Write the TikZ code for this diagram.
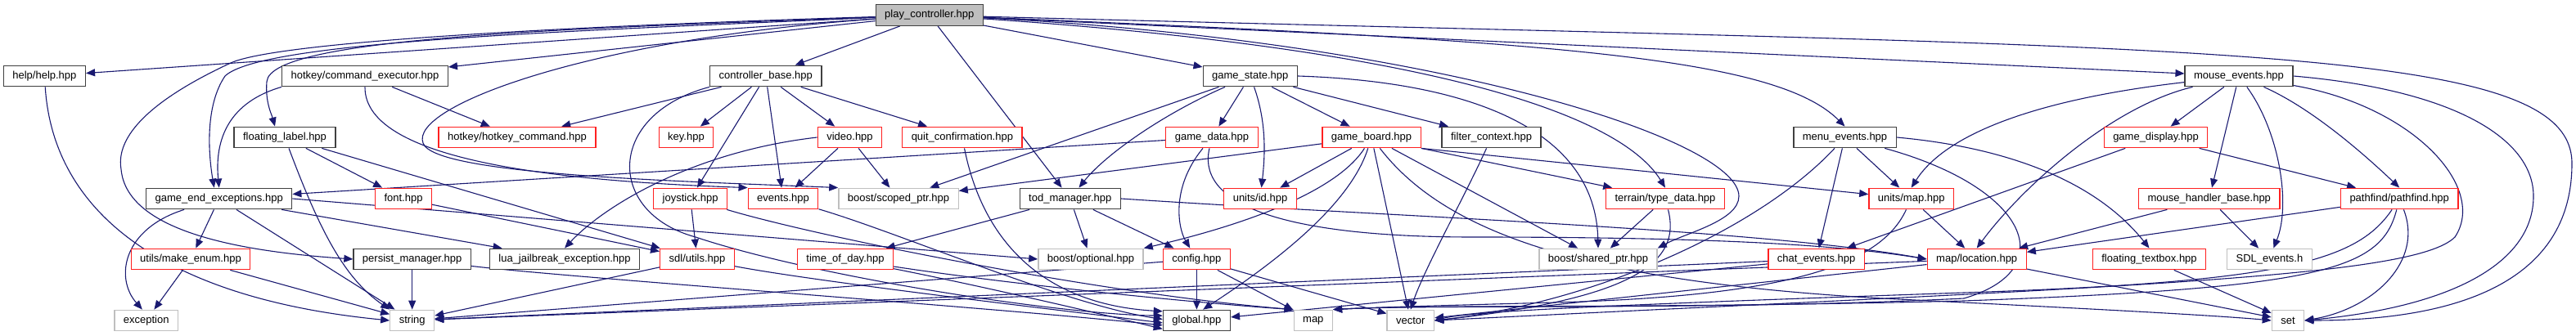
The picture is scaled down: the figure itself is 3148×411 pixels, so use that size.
\documentclass[tikz,border=0pt]{standalone}
\usepackage{fontspec}
\usetikzlibrary{arrows.meta,backgrounds}
\newfontfamily\incfamily{Liberation Sans}
\newcommand{\incfont}{\incfamily\fontsize{13}{15}\selectfont}
\definecolor{edgeblue}{HTML}{191970}
\definecolor{extgray}{HTML}{BFBFBF}
\definecolor{truncred}{HTML}{FF2020}
\tikzset{
  incfile/.style={rectangle, draw, line width=1.3pt, fill=white, minimum height=25.5pt, inner xsep=11pt, inner ysep=0pt, font=\incfont},
  docfile/.style={incfile, draw=black!75},
  rootfile/.style={incfile, draw=black!75, fill=extgray},
  truncfile/.style={incfile, draw=truncred},
  sysfile/.style={incfile, draw=extgray},
  dep/.style={-{Triangle[length=11pt,width=9pt]}, draw=edgeblue, line width=1.1pt}
}

\begin{document}
\begin{tikzpicture}[x=1pt,y=-1pt]
  \useasboundingbox (0,0) rectangle (3148,411);
  % files
  \node[rootfile] (pc) at (1135.8,18.5) {play\_controller.hpp};
  \node[docfile] (help) at (54.4,93) {help/help.hpp};
  \node[docfile] (cmdexec) at (446,93) {hotkey/command\_executor.hpp};
  \node[docfile] (ctrlbase) at (935.8,93) {controller\_base.hpp};
  \node[docfile] (gamestate) at (1527.8,93) {game\_state.hpp};
  \node[docfile] (mouseev) at (2736,93) {mouse\_events.hpp};

  \node[docfile] (floatlabel) at (348,168) {floating\_label.hpp};
  \node[truncfile] (hkcmd) at (632,168) {hotkey/hotkey\_command.hpp};
  \node[truncfile] (key) at (838.5,168) {key.hpp};
  \node[truncfile] (video) at (1038.5,168) {video.hpp};
  \node[truncfile] (quitconf) at (1175.9,168) {quit\_confirmation.hpp};
  \node[truncfile] (gamedata) at (1481,168) {game\_data.hpp};
  \node[truncfile] (gameboard) at (1676,168) {game\_board.hpp};
  \node[docfile] (filterctx) at (1822.6,168) {filter\_context.hpp};
  \node[docfile] (menuev) at (2254.5,168) {menu\_events.hpp};
  \node[truncfile] (gamedisp) at (2634.5,168) {game\_display.hpp};

  \node[docfile] (gameend) at (267.7,243) {game\_end\_exceptions.hpp};
  \node[truncfile] (font) at (493,243) {font.hpp};
  \node[truncfile] (joystick) at (843.7,243) {joystick.hpp};
  \node[truncfile] (events) at (957,243) {events.hpp};
  \node[sysfile] (scopedptr) at (1098,243) {boost/scoped\_ptr.hpp};
  \node[docfile] (todmgr) at (1307.8,243) {tod\_manager.hpp};
  \node[truncfile] (unitsid) at (1540,243) {units/id.hpp};
  \node[truncfile] (typedata) at (2035,243) {terrain/type\_data.hpp};
  \node[truncfile] (unitsmap) at (2335.7,243) {units/map.hpp};
  \node[truncfile] (mousehb) at (2699.8,243) {mouse\_handler\_base.hpp};
  \node[truncfile] (pathfind) at (2932.2,243) {pathfind/pathfind.hpp};

  \node[truncfile] (makeenum) at (233,317) {utils/make\_enum.hpp};
  \node[docfile] (persist) at (503.7,317) {persist\_manager.hpp};
  \node[docfile] (luajb) at (690,317) {lua\_jailbreak\_exception.hpp};
  \node[truncfile] (sdlutils) at (852,317) {sdl/utils.hpp};
  \node[truncfile] (tod) at (1033,317) {time\_of\_day.hpp};
  \node[sysfile] (optional) at (1333,317) {boost/optional.hpp};
  \node[truncfile] (config) at (1462.4,317) {config.hpp};
  \node[sysfile] (sharedptr) at (1953,317) {boost/shared\_ptr.hpp};
  \node[truncfile] (chatev) at (2219.6,317) {chat\_events.hpp};
  \node[truncfile] (location) at (2415.7,317) {map/location.hpp};
  \node[truncfile] (floattb) at (2626.5,317) {floating\_textbox.hpp};
  \node[sysfile] (sdlev) at (2773.4,317) {SDL\_events.h};

  \node[sysfile] (exception) at (178.7,392) {exception};
  \node[sysfile] (string) at (503.7,392) {string};
  \node[docfile] (global) at (1462.4,392) {global.hpp};
  \node[sysfile] (map) at (1604.8,392) {map};
  \node[sysfile] (vector) at (1723.8,392) {vector};
  \node[sysfile] (set) at (2796,392) {set};

  \begin{scope}[on background layer]
  % play_controller.hpp
  \draw[dep] (pc) -- (help);
  \draw[dep] (pc) -- (cmdexec);
  \draw[dep] (pc) .. controls (700,35) and (330,45) .. (326,100) .. controls (324,125) and (332,140) .. ([xshift=-12pt]floatlabel.north);
  \draw[dep] (pc) .. controls (700,38) and (320,50) .. (275,93) .. controls (250,130) and (255,190) .. ([xshift=-6pt]gameend.north);
  \draw[dep] (pc) .. controls (600,35) and (330,55) .. (282,77) .. controls (200,115) and (140,160) .. (148,207) .. controls (155,285) and (300,308) .. (persist.west);
  \draw[dep] (pc) .. controls (720,48) and (500,130) .. (517,175) .. controls (530,215) and (850,222) .. (scopedptr.north west);
  \draw[dep] (pc) -- (ctrlbase);
  \draw[dep] (pc) -- (todmgr);
  \draw[dep] (pc) -- (gamestate);
  \draw[dep] (pc) .. controls (1750,60) and (1980,140) .. (typedata.north);
  \draw[dep] (pc) .. controls (1750,50) and (2125,170) .. (2125,240) .. controls (2125,270) and (2060,285) .. (sharedptr.north east);
  \draw[dep] (pc) .. controls (1900,50) and (2170,70) .. (menuev.north);
  \draw[dep] (pc) -- (mouseev);
  \draw[dep] (pc) .. controls (2700,60) and (3143,50) .. (3143,200) .. controls (3143,370) and (2950,392) .. (set.east);

  % first level
  \draw[dep] (cmdexec.south west) .. controls (280,125) and (262,170) .. (gameend.north);
  \draw[dep] (cmdexec) -- (hkcmd);
  \draw[dep] (cmdexec.south) .. controls (445,200) and (700,222) .. (events.north west);

  \draw[dep] (ctrlbase) -- (hkcmd);
  \draw[dep] (ctrlbase) -- (key);
  \draw[dep] (ctrlbase) -- (joystick);
  \draw[dep] (ctrlbase) -- (events);
  \draw[dep] (ctrlbase) -- (video);
  \draw[dep] (ctrlbase) -- (quitconf);
  \draw[dep] (ctrlbase.south west) .. controls (740,140) and (740,260) .. (850,290) .. controls (1000,340) and (1300,385) .. (global.172);

  \draw[dep] (gamestate) -- (scopedptr);
  \draw[dep] (gamestate) .. controls (1420,140) and (1350,190) .. (todmgr);
  \draw[dep] (gamestate) -- (gamedata);
  \draw[dep] (gamestate) .. controls (1548,150) and (1546,190) .. (unitsid);
  \draw[dep] (gamestate) -- (gameboard);
  \draw[dep] (gamestate) -- (filterctx);
  \draw[dep] (gamestate.east) .. controls (1800,100) and (1950,160) .. (sharedptr.north);

  \draw[dep] (mouseev) -- (gamedisp);
  \draw[dep] (mouseev) -- (mousehb);
  \draw[dep] (mouseev) .. controls (2785,160) and (2800,250) .. (sdlev.70);
  \draw[dep] (mouseev) .. controls (2820,130) and (2880,180) .. (pathfind.north);
  \draw[dep] (mouseev) .. controls (2500,120) and (2380,160) .. (unitsmap.north);
  \draw[dep] (mouseev) .. controls (2580,130) and (2470,230) .. (location.north);
  \draw[dep] (mouseev.east) .. controls (3000,110) and (3096,170) .. (3096,240) .. controls (3096,320) and (3000,375) .. (set.east);
  \draw[dep] (mouseev) .. controls (2950,130) and (3040,230) .. (3000,290) .. controls (2950,340) and (2600,350) .. (vector.east);

  % second level
  \draw[dep] (floatlabel) -- (font);
  \draw[dep] (floatlabel) -- (sdlutils);
  \draw[dep] (floatlabel) .. controls (390,280) and (420,340) .. (string.north west);

  \draw[dep] (video) -- (events);
  \draw[dep] (video) -- (scopedptr);
  \draw[dep] (video.west) .. controls (850,185) and (740,250) .. (luajb.north);
  \draw[dep] (quitconf) .. controls (1200,290) and (1270,372) .. (global.165);

  \draw[dep] (gamedata) -- (gameend);
  \draw[dep] (gamedata) .. controls (1430,230) and (1440,280) .. (config);
  \draw[dep] (gamedata) .. controls (1460,260) and (1600,290) .. (1800,290) .. controls (2100,290) and (2250,300) .. (location.west);

  \draw[dep] (gameboard) -- (unitsid);
  \draw[dep] (gameboard) -- (scopedptr);
  \draw[dep] (gameboard) .. controls (1630,240) and (1500,280) .. (optional.north east);
  \draw[dep] (gameboard) .. controls (1650,250) and (1560,320) .. (global.60);
  \draw[dep] (gameboard) -- (vector);
  \draw[dep] (gameboard) -- (sharedptr);
  \draw[dep] (gameboard.south east) -- (typedata);
  \draw[dep] (gameboard.south east) -- (unitsmap);
  \draw[dep] (gameboard) .. controls (1770,290) and (1950,345) .. (2300,365) .. controls (2500,375) and (2700,385) .. (set.west);

  \draw[dep] (filterctx) .. controls (1790,240) and (1740,330) .. (vector.north);

  \draw[dep] (menuev) -- (chatev);
  \draw[dep] (menuev) -- (unitsmap);
  \draw[dep] (menuev.east) .. controls (2450,180) and (2560,220) .. (floattb.north);
  \draw[dep] (menuev) .. controls (2150,280) and (1950,370) .. (vector.east);
  \draw[dep] (menuev) .. controls (2480,230) and (2520,330) .. (2400,365) .. controls (2100,380) and (1750,372) .. (map.north east);

  \draw[dep] (gamedisp) -- (chatev);
  \draw[dep] (gamedisp) -- (pathfind);

  % third level
  \draw[dep] (gameend) .. controls (150,280) and (140,340) .. (exception.110);
  \draw[dep] (gameend) -- (makeenum);
  \draw[dep] (gameend) -- (string);
  \draw[dep] (gameend) -- (luajb);
  \draw[dep] (gameend.east) -- (optional.west);

  \draw[dep] (font) -- (sdlutils);
  \draw[dep] (joystick) -- (sdlutils);
  \draw[dep] (joystick) .. controls (1000,290) and (1350,360) .. (map.north west);
  \draw[dep] (events) .. controls (1100,285) and (1300,372) .. (global.178);

  \draw[dep] (todmgr) -- (tod);
  \draw[dep] (todmgr) -- (optional);
  \draw[dep] (todmgr) -- (config);
  \draw[dep] (todmgr.east) .. controls (1700,265) and (2150,280) .. (location.west);

  \draw[dep] (typedata) -- (sharedptr);
  \draw[dep] (typedata) .. controls (2055,320) and (2000,365) .. (vector.east);
  \draw[dep] (unitsmap) -- (location);
  \draw[dep] (unitsmap) .. controls (2300,320) and (2200,362) .. (1900,370) .. controls (1750,374) and (1680,376) .. (map.north east);

  \draw[dep] (mousehb) -- (sdlev);
  \draw[dep] (mousehb) -- (location);
  \draw[dep] (pathfind) -- (location);
  \draw[dep] (pathfind) .. controls (2962,320) and (2900,378) .. (set.east);
  \draw[dep] (pathfind) .. controls (2880,320) and (2790,345) .. (2400,358) .. controls (2000,372) and (1800,380) .. (vector.east);
  \draw[dep] (pathfind) .. controls (2910,330) and (2840,352) .. (2400,368) .. controls (2000,378) and (1760,372) .. (map.north east);

  % fourth level
  \draw[dep] (help) .. controls (65,260) and (200,365) .. (string.west);
  \draw[dep] (makeenum) -- (exception);
  \draw[dep] (makeenum) -- (string);
  \draw[dep] (persist) -- (string);
  \draw[dep] (persist) .. controls (700,340) and (1200,375) .. (global.188);
  \draw[dep] (sdlutils) -- (string);
  \draw[dep] (sdlutils) .. controls (1000,345) and (1300,380) .. (global.184);
  \draw[dep] (tod) .. controls (1200,350) and (1350,385) .. (global.194);
  \draw[dep] (tod) .. controls (1250,350) and (1480,372) .. (map.north west);
  \draw[dep] (config) -- (global);
  \draw[dep] (config) -- (map);
  \draw[dep] (config) -- (vector);
  \draw[dep] (config) -- (string);
  \draw[dep] (chatev) -- (global);
  \draw[dep] (chatev) -- (string);
  \draw[dep] (location) -- (set);
  \draw[dep] (location) -- (vector);
  \draw[dep] (location) -- (string);
  \draw[dep] (floattb) -- (set);
  \end{scope}
\end{tikzpicture}
\end{document}
